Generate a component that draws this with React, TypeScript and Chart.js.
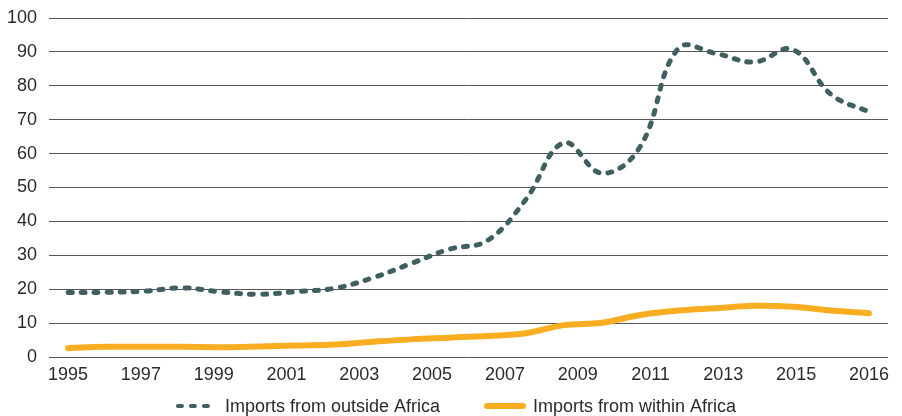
import React, { useEffect, useRef } from 'react';
import { Chart, registerables } from 'chart.js';

Chart.register(...registerables);

// ---- Data ----
const years = [
  1995, 1996, 1997, 1998, 1999, 2000, 2001, 2002, 2003, 2004, 2005,
  2006, 2007, 2008, 2009, 2010, 2011, 2012, 2013, 2014, 2015, 2016,
];
const outsideAfrica = [
  19.0, 19.1, 19.4, 20.4, 19.2, 18.5, 19.3, 20.3, 23.4, 27.6, 31.8,
  34.4, 46.4, 63.2, 54.2, 62.0, 91.0, 89.5, 87.0, 90.7, 77.5, 72.3,
];
const withinAfrica = [
  2.6, 3.0, 3.0, 3.0, 2.9, 3.1, 3.4, 3.7, 4.5, 5.2, 5.7,
  6.2, 7.0, 9.4, 10.1, 12.4, 13.7, 14.4, 15.1, 14.8, 13.7, 12.9,
];
const xTickLabels = [
  '1995', '1997', '1999', '2001', '2003', '2005',
  '2007', '2009', '2011', '2013', '2015', '2016',
];
const seriesLabels = ['Imports from outside Africa', 'Imports from within Africa'];

const FONT = "'Liberation Sans', Arial, sans-serif";
const FONT_SIZE = 18;
const TEXT = '#2b2b2b';
const DARK = '#3f5f60';
const ORANGE = '#f9ae22';

const legendPlugin = {
  id: 'customLegend',
  afterDraw(chart: any) {
    const ctx = chart.ctx as CanvasRenderingContext2D;
    const symbolW = 42;
    const textGap = 7;
    const itemGap = 44;
    ctx.save();
    ctx.font = `${FONT_SIZE}px ${FONT}`;
    const items = chart.data.datasets.map((ds: any) => ({ ds, w: ctx.measureText(ds.label).width }));
    const total =
      items.reduce((s: number, it: any) => s + symbolW + textGap + it.w, 0) + itemGap * (items.length - 1);
    let x = chart.width / 2 + 5 - total / 2;
    const y = 406;
    items.forEach(({ ds, w }: any) => {
      const lw = ds.legendLineWidth ?? ds.borderWidth;
      ctx.beginPath();
      ctx.strokeStyle = ds.borderColor;
      ctx.lineWidth = lw;
      ctx.lineCap = 'round';
      ctx.setLineDash(ds.borderDash || []);
      ctx.moveTo(x + lw / 2, y);
      ctx.lineTo(x + symbolW - lw / 2, y);
      ctx.stroke();
      ctx.setLineDash([]);
      ctx.fillStyle = TEXT;
      ctx.textBaseline = 'middle';
      ctx.textAlign = 'left';
      ctx.fillText(ds.label, x + symbolW + textGap, y + 1);
      x += symbolW + textGap + w + itemGap;
    });
    ctx.restore();
  },
};

export default function App() {
  const canvasRef = useRef<HTMLCanvasElement | null>(null);

  useEffect(() => {
    if (!canvasRef.current) return;
    const chart = new Chart(canvasRef.current, {
      type: 'line',
      data: {
        datasets: [
          {
            label: seriesLabels[0],
            data: years.map((yr, i) => ({ x: yr, y: outsideAfrica[i] })),
            borderColor: DARK,
            borderWidth: 5,
            borderDash: [4, 9],
            borderCapStyle: 'round',
            pointRadius: 0,
            tension: 0.4,
            fill: false,
            legendLineWidth: 4,
          } as any,
          {
            label: seriesLabels[1],
            data: years.map((yr, i) => ({ x: yr, y: withinAfrica[i] })),
            borderColor: ORANGE,
            borderWidth: 6,
            borderCapStyle: 'round',
            pointRadius: 0,
            tension: 0.4,
            fill: false,
          } as any,
        ],
      },
      options: {
        responsive: false,
        maintainAspectRatio: false,
        animation: false,
        layout: { padding: { left: 0, right: 14, top: 18, bottom: 28 } },
        plugins: {
          legend: { display: false },
          tooltip: { enabled: false },
        },
        scales: {
          x: {
            type: 'linear',
            min: years[0] - 0.5,
            max: years[years.length - 1] + 0.5,
            grid: { display: false },
            border: { display: false },
            afterBuildTicks: (scale: any) => {
              const first = years[0];
              const last = years[years.length - 1];
              scale.ticks = xTickLabels.map((_, k) => ({
                value: first + (k * (last - first)) / (xTickLabels.length - 1),
              }));
            },
            afterFit: (scale: any) => {
              scale.height = 31;
              scale.paddingLeft = 0;
              scale.paddingRight = 0;
            },
            ticks: {
              autoSkip: false,
              maxRotation: 0,
              padding: -1,
              color: TEXT,
              font: { family: FONT, size: FONT_SIZE },
              callback: (_v: any, i: number) => xTickLabels[i],
            },
          },
          y: {
            min: 0,
            max: 100,
            grid: { color: '#555555', lineWidth: 1, drawTicks: false },
            border: { display: false },
            afterFit: (scale: any) => {
              scale.width = 49;
              scale.paddingTop = 0;
              scale.paddingBottom = 0;
            },
            ticks: {
              stepSize: 10,
              padding: 12,
              color: TEXT,
              font: { family: FONT, size: FONT_SIZE },
            },
          },
        },
      },
      plugins: [legendPlugin],
    });
    return () => chart.destroy();
  }, []);

  return (
    <div style={{ position: 'fixed', left: 0, top: 0, width: 902, height: 416, background: '#fff' }}>
      <canvas ref={canvasRef} width={902} height={416} style={{ display: 'block' }} />
    </div>
  );
}
